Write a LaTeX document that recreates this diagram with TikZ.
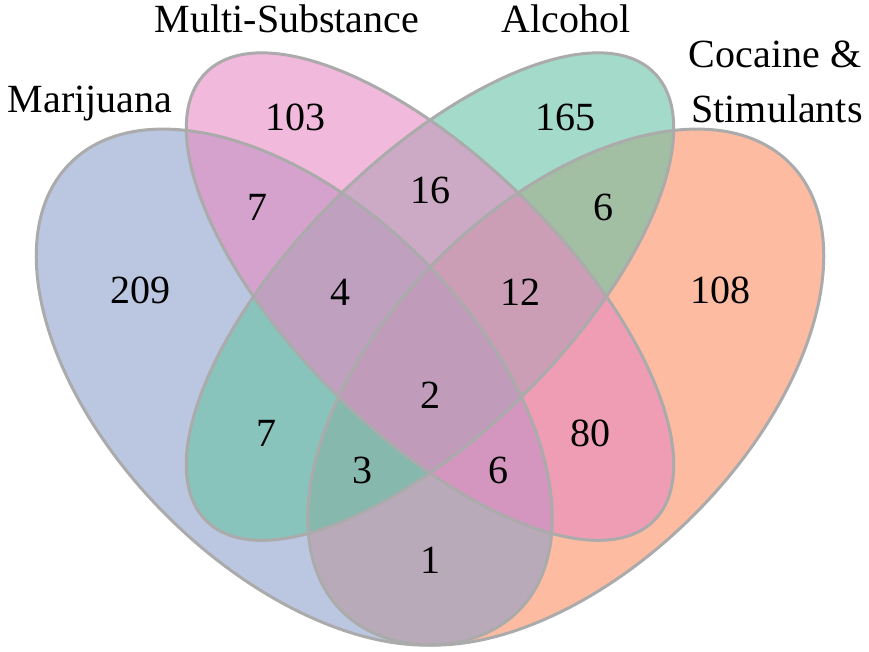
\documentclass[tikz,border=0pt]{standalone}
\usepackage{fontspec}
\setmainfont{Liberation Serif}
\usepackage{xcolor}
\definecolor{marijuana}{HTML}{8DA0CB}
\definecolor{multisub}{HTML}{E78AC3}
\definecolor{alcohol}{HTML}{66C2A5}
\definecolor{cocaine}{HTML}{FC8D62}
\definecolor{rimgray}{HTML}{ABABAB}

\begin{document}
\begin{tikzpicture}[x=1pt,y=1pt,
  set/.style={fill opacity=0.6},
  rim/.style={draw=rimgray,line width=3pt},
  num/.style={font=\fontsize{40}{48}\selectfont},
  lbl/.style={font=\fontsize{40}{48}\selectfont,anchor=base}]
\useasboundingbox (0,0) rectangle (869,652);
% filled sets
\fill[set,cocaine]   (565.75,264.9) ellipse [x radius=316.75,y radius=181,rotate=45];
\fill[set,marijuana] (294.25,264.9) ellipse [x radius=316.75,y radius=181,rotate=-45];
\fill[set,alcohol]   (430,355.4) ellipse [x radius=316.75,y radius=135.75,rotate=45];
\fill[set,multisub]  (430,355.4) ellipse [x radius=316.75,y radius=135.75,rotate=-45];
% outlines
\draw[rim] (565.75,264.9) ellipse [x radius=316.75,y radius=181,rotate=45];
\draw[rim] (294.25,264.9) ellipse [x radius=316.75,y radius=181,rotate=-45];
\draw[rim] (430,355.4) ellipse [x radius=316.75,y radius=135.75,rotate=45];
\draw[rim] (430,355.4) ellipse [x radius=316.75,y radius=135.75,rotate=-45];
% set names
\node (mj) at (90,539) [lbl] {Marijuana};
\node (ms) at (287,619) [lbl] {Multi-Substance};
\node (al) at (566,619) [lbl] {Alcohol};
\node (co) at (775,584) [lbl] {Cocaine \&};
\node (st) at (777,529) [lbl] {Stimulants};
% counts
\node (n1) at (295,535) [num] {103};
\node (n2) at (565,535) [num] {165};
\node (n3) at (257,445) [num] {7};
\node (n4) at (430,462) [num] {16};
\node (n5) at (603,445) [num] {6};
\node (n6) at (140,362) [num] {209};
\node (n7) at (340,360) [num] {4};
\node (n8) at (520,360) [num] {12};
\node (n9) at (720,362) [num] {108};
\node (n10) at (430,257) [num] {2};
\node (n11) at (266,219) [num] {7};
\node (n12) at (590,219) [num] {80};
\node (n13) at (362,182) [num] {3};
\node (n14) at (498,182) [num] {6};
\node (n15) at (430,92) [num] {1};
\end{tikzpicture}
\end{document}
